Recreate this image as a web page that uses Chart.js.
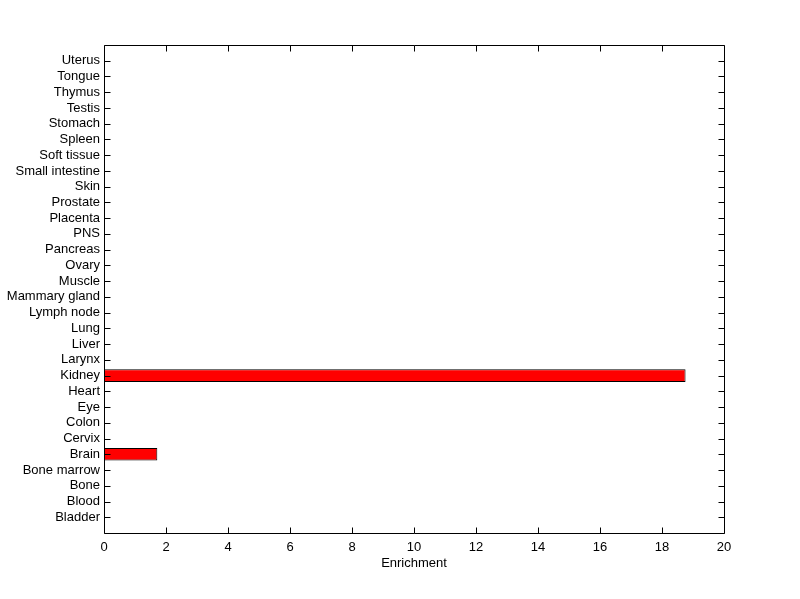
<!DOCTYPE html>
<html>
<head>
<meta charset="utf-8">
<script src="https://cdn.jsdelivr.net/npm/chart.js@4.4.1/dist/chart.umd.min.js"></script>
<style>
html,body{margin:0;padding:0;background:#fff;}
#wrap{width:800px;height:599px;position:relative;}
</style>
</head>
<body>
<div id="wrap"><canvas id="c" width="800" height="599"></canvas></div>
<script>
// Categories, bottom to top
const tissues = ["Bladder","Blood","Bone","Bone marrow","Brain","Cervix","Colon","Eye","Heart","Kidney","Larynx","Liver","Lung","Lymph node","Mammary gland","Muscle","Ovary","Pancreas","PNS","Placenta","Prostate","Skin","Small intestine","Soft tissue","Spleen","Stomach","Testis","Thymus","Tongue","Uterus"];
const enrichment = [0,0,0,0,1.72,0,0,0,0,18.76,0,0,0,0,0,0,0,0,0,0,0,0,0,0,0,0,0,0,0,0];
const xTicks = [0,2,4,6,8,10,12,14,16,18,20];
const xLabel = "Enrichment";

const FONT = {family: "'Liberation Sans', Arial, Helvetica, sans-serif", size: 13};

const boxPlugin = {
  id: 'box',
  afterDraw(chart) {
    const ctx = chart.ctx, a = chart.chartArea;
    const xs = chart.scales.x, ys = chart.scales.y;
    const L = Math.round(a.left) + 0.5, R = Math.round(a.right) + 0.5;
    const T = Math.round(a.top) + 0.5, B = Math.round(a.bottom) + 0.5;
    const len = 6;
    ctx.save();
    ctx.strokeStyle = '#000';
    ctx.lineWidth = 1;
    ctx.beginPath();
    ctx.rect(L, T, R - L, B - T);
    xs.ticks.forEach(t => {
      const px = Math.round(xs.getPixelForValue(t.value)) + 0.5;
      ctx.moveTo(px, B); ctx.lineTo(px, B - len);
      ctx.moveTo(px, T); ctx.lineTo(px, T + len);
    });
    tissues.forEach((name, i) => {
      const py = Math.round(ys.getPixelForValue(i + 1)) + 0.5;
      ctx.moveTo(L, py); ctx.lineTo(L + len, py);
      ctx.moveTo(R, py); ctx.lineTo(R - len, py);
    });
    ctx.stroke();
    ctx.restore();
  }
};

new Chart(document.getElementById('c'), {
  type: 'bar',
  data: {
    datasets: [{
      data: enrichment.map((v, i) => ({x: v, y: i + 1})),
      backgroundColor: '#ff0000',
      borderColor: '#000000',
      borderWidth: 1,
      borderSkipped: false,
      barPercentage: 0.8,
      categoryPercentage: 1.0
    }]
  },
  options: {
    indexAxis: 'y',
    responsive: false,
    animation: false,
    devicePixelRatio: 1,
    layout: {padding: {left: 0, right: 76, top: 45, bottom: 28}},
    plugins: {legend: {display: false}, tooltip: {enabled: false}},
    scales: {
      x: {
        type: 'linear',
        min: 0, max: 20,
        offset: false,
        afterBuildTicks(scale) { scale.ticks = xTicks.map(v => ({value: v})); },
        grid: {display: false, drawTicks: false},
        border: {display: false},
        ticks: {color: '#000', font: FONT, padding: 7, maxRotation: 0},
        title: {display: true, text: xLabel, color: '#000', font: FONT, padding: {top: 0, bottom: 0}},
        afterFit(scale) { scale.height = 38; }
      },
      y: {
        type: 'linear',
        min: 0, max: 31,
        offset: false,
        afterBuildTicks(scale) { scale.ticks = tissues.map((n, i) => ({value: i + 1})); },
        grid: {display: false, drawTicks: false},
        border: {display: false},
        ticks: {
          color: '#000', font: FONT, padding: 4, autoSkip: false,
          callback: (v) => tissues[v - 1] || ''
        },
        afterFit(scale) { scale.width = 104; }
      }
    }
  },
  plugins: [boxPlugin]
});
</script>
</body>
</html>
